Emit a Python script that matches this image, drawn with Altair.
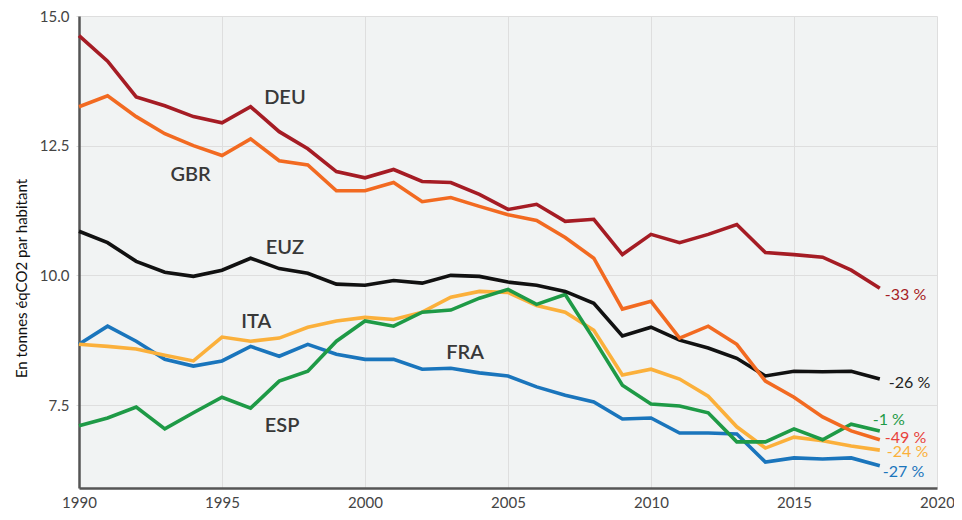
import altair as alt
import pandas as pd

years = list(range(1990, 2019))

deu = [14.62, 14.13, 13.44, 13.27, 13.06, 12.94, 13.25, 12.77, 12.44, 12.00,
       11.88, 12.04, 11.81, 11.79, 11.56, 11.27, 11.37, 11.04, 11.08, 10.40,
       10.79, 10.63, 10.79, 10.98, 10.44, 10.40, 10.35, 10.10, 9.75]
gbr = [13.25, 13.46, 13.06, 12.73, 12.50, 12.31, 12.63, 12.21, 12.13, 11.63,
       11.63, 11.79, 11.42, 11.50, 11.33, 11.17, 11.06, 10.73, 10.33, 9.35,
       9.50, 8.79, 9.02, 8.67, 7.96, 7.65, 7.27, 7.00, 6.83]
euz = [10.85, 10.63, 10.27, 10.06, 9.98, 10.10, 10.33, 10.13, 10.04, 9.83,
       9.81, 9.90, 9.85, 10.00, 9.98, 9.87, 9.81, 9.69, 9.46, 8.83,
       9.00, 8.75, 8.60, 8.40, 8.06, 8.15, 8.14, 8.15, 8.00]
ita = [8.67, 8.63, 8.58, 8.46, 8.35, 8.81, 8.73, 8.79, 9.00, 9.12,
       9.19, 9.15, 9.29, 9.58, 9.69, 9.67, 9.42, 9.29, 8.94, 8.08,
       8.19, 8.00, 7.67, 7.08, 6.67, 6.88, 6.81, 6.71, 6.63]
esp = [7.10, 7.25, 7.46, 7.04, 7.35, 7.65, 7.44, 7.96, 8.15, 8.73,
       9.12, 9.02, 9.29, 9.33, 9.56, 9.73, 9.44, 9.63, 8.77, 7.88,
       7.52, 7.48, 7.35, 6.79, 6.79, 7.04, 6.83, 7.13, 7.00]
fra = [8.67, 9.02, 8.73, 8.38, 8.25, 8.35, 8.63, 8.44, 8.67, 8.48,
       8.38, 8.38, 8.19, 8.21, 8.12, 8.06, 7.85, 7.69, 7.56, 7.23,
       7.25, 6.96, 6.96, 6.94, 6.40, 6.48, 6.46, 6.48, 6.33]

countries = ["FRA", "ITA", "ESP", "EUZ", "GBR", "DEU"]
series = {"DEU": deu, "GBR": gbr, "EUZ": euz, "ITA": ita, "ESP": esp, "FRA": fra}
line_colors = {"DEU": "#a51c24", "GBR": "#f26a21", "EUZ": "#111111",
               "ITA": "#fbb03b", "ESP": "#1e9a46", "FRA": "#1a75bc"}

# end-of-line change labels
change_text = {"DEU": "-33 %", "EUZ": "-26 %", "ESP": "-1 %",
               "GBR": "-49 %", "ITA": "-24 %", "FRA": "-27 %"}
change_color = {"DEU": "#a51c24", "EUZ": "#222222", "ESP": "#1e9a46",
                "GBR": "#e8423b", "ITA": "#fbb03b", "FRA": "#1a75bc"}
change_offset = {"DEU": (5, 7), "EUZ": (9, 4), "ESP": (-7, -11),
                 "GBR": (5, -2), "ITA": (7, 2), "FRA": (3, 6)}

# country name annotations (data coordinates)
name_labels = ["DEU", "GBR", "EUZ", "ITA", "FRA", "ESP"]
name_x = [1997.2, 1993.9, 1997.2, 1996.2, 2003.5, 1997.1]
name_y = [13.42, 11.93, 10.53, 9.10, 8.51, 7.10]

x_ticks = [1990, 1995, 2000, 2005, 2010, 2015, 2020]
y_ticks = [7.5, 10.0, 12.5, 15.0]

rows = []
for c in countries:
    for yr, v in zip(years, series[c]):
        rows.append({"country": c, "year": yr, "value": v})
df = pd.DataFrame(rows)

FONT = "Lato"

xscale = alt.Scale(domain=[1990, 2020], nice=False, zero=False)
yscale = alt.Scale(domain=[5.9, 15], nice=False, zero=False)

xaxis = alt.Axis(values=x_ticks, format="d", title=None, labelFontSize=15,
                 labelColor="#444444", labelFont=FONT, domainColor="#555555",
                 domainWidth=2.5, ticks=False, gridColor="#dedede", gridWidth=1,
                 labelPadding=7, labelFlush=False)
yaxis = alt.Axis(values=y_ticks, format=".1f", title="En tonnes éqCO2 par habitant",
                 labelFontSize=15, labelColor="#444444", labelFont=FONT,
                 domainColor="#555555", domainWidth=2.5, tickColor="#dddddd",
                 tickSize=3, gridColor="#dedede", gridWidth=1, labelPadding=7,
                 titleFont=FONT, titleFontSize=15, titleFontWeight="normal",
                 titleColor="#111111", titlePadding=10, titleY=262)

lines = alt.Chart(df).mark_line(strokeWidth=3.6).encode(
    x=alt.X("year:Q", scale=xscale, axis=xaxis),
    y=alt.Y("value:Q", scale=yscale, axis=yaxis),
    color=alt.Color("country:N",
                    scale=alt.Scale(domain=countries,
                                    range=[line_colors[c] for c in countries]),
                    legend=None),
    detail="country:N",
)

names_df = pd.DataFrame({"label": name_labels, "x": name_x, "y": name_y})
names = alt.Chart(names_df).mark_text(font=FONT, fontSize=20, fontWeight=600,
                                      color="#383838", align="center",
                                      baseline="middle").encode(
    x=alt.X("x:Q", scale=xscale), y=alt.Y("y:Q", scale=yscale), text="label:N")

layers = [lines, names]
for c in ["DEU", "EUZ", "ESP", "GBR", "ITA", "FRA"]:
    end_df = pd.DataFrame({"year": [years[-1]], "value": [series[c][-1]],
                           "label": [change_text[c]]})
    dx, dy = change_offset[c]
    layers.append(
        alt.Chart(end_df).mark_text(font=FONT, fontSize=16, align="left",
                                    baseline="middle", dx=dx, dy=dy,
                                    color=change_color[c]).encode(
            x=alt.X("year:Q", scale=xscale), y=alt.Y("value:Q", scale=yscale),
            text="label:N"))

chart = alt.layer(*layers).properties(
    width=858, height=472,
    autosize=alt.AutoSizeParams(type="none"),
    padding={"left": 71, "top": 8, "right": 17, "bottom": 28},
    background="white",
).configure_view(fill="#f1f3f3", strokeWidth=0)

chart.save("out.html", embed_options={"renderer": "svg", "actions": False})
